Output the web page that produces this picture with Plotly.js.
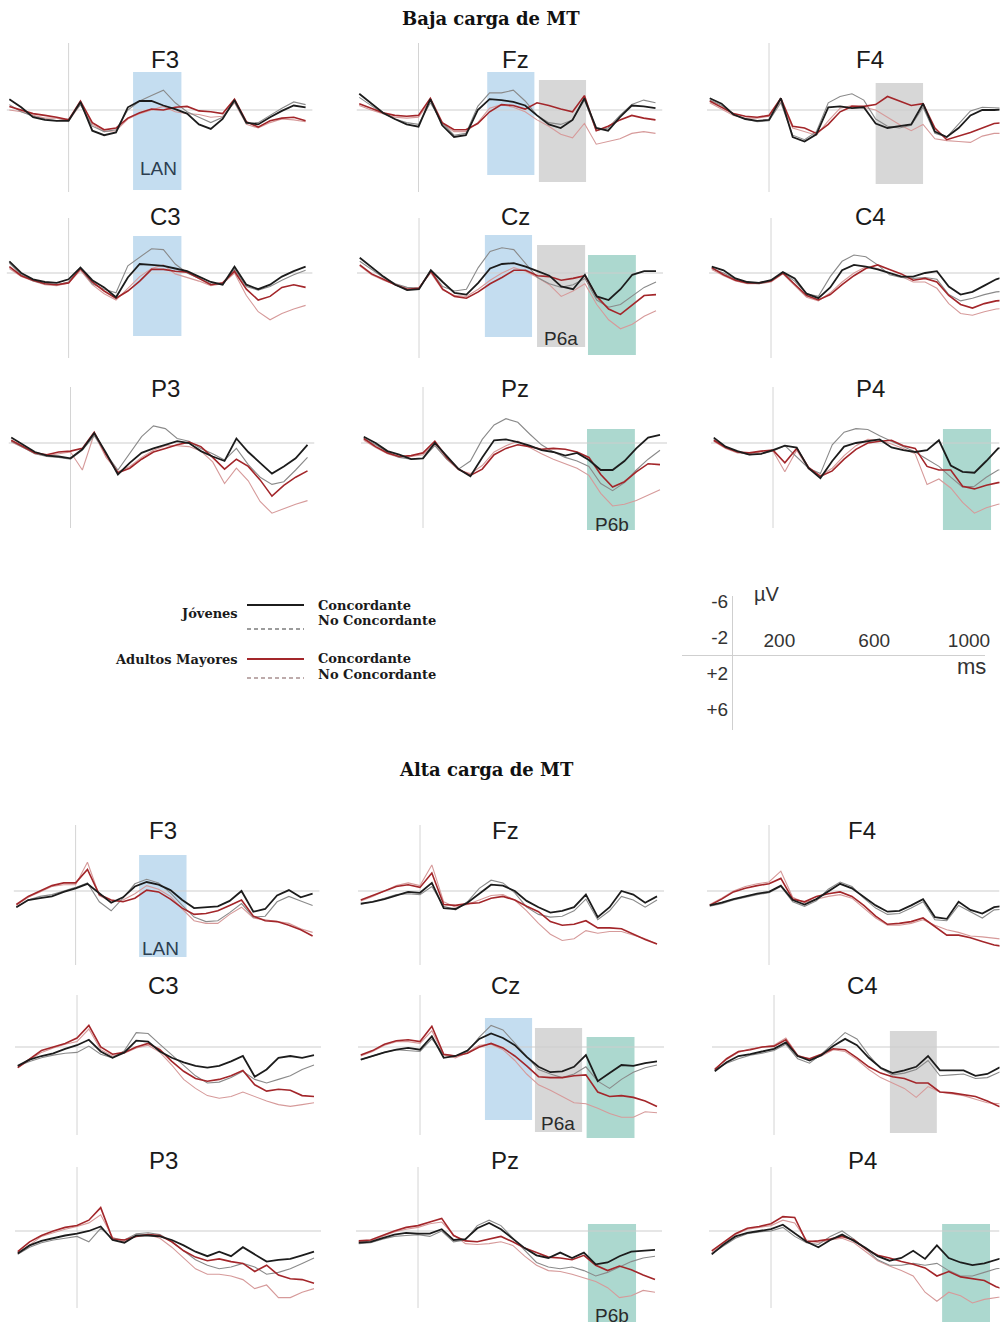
<!DOCTYPE html>
<html><head><meta charset="utf-8">
<script src="https://cdn.plot.ly/plotly-3.0.1.min.js"></script>
<style>html,body{margin:0;padding:0;background:#fff;}#chart{width:1000px;height:1329px;}</style>
</head><body><div id="chart"></div>
<script>
// ---------- DATA ----------
const TIME_MS = [-250,-200,-150,-100,-50,0,50,100,150,200,250,300,350,400,450,500,550,600,650,700,750,800,850,900,950,1000];
const CHANNELS = ['F3','Fz','F4','C3','Cz','C4','P3','Pz','P4'];
const GROUP_TITLES = ['Baja carga de MT','Alta carga de MT'];
const GROUP_NAMES = ['Jóvenes','Adultos Mayores'];
const CONDITION_NAMES = ['Concordante','No Concordante'];
const SCALE_UV_TICKS = [-6,-2,2,6];
const SCALE_UV_LABELS = ['-6','-2','+2','+6'];
const SCALE_MS_TICKS = [200,600,1000];
const SCALE_MS_LABELS = ['200','600','1000'];

// Baja carga de MT (µV; negative plotted up). JC = Jóvenes Concordante, JN = Jóvenes No Concordante, AC/AN = Adultos Mayores
const B_F3_JC = [-1.2,-0.3,0.8,1.1,1.2,1.2,-0.9,2.3,2.8,2.5,-0.3,-1.0,-1.0,-0.5,-0.1,0.4,1.6,2.1,1.0,-1.1,1.4,1.6,0.8,0.1,-0.5,-0.3];
const B_F3_JN = [-0.6,0.2,0.7,1.0,1.2,1.0,-0.6,1.8,2.4,2.2,0.0,-1.0,-1.6,-2.2,-0.8,0.2,0.8,1.4,0.8,-0.9,1.5,1.4,0.6,-0.2,-0.9,-0.6];
const B_F3_AC = [-0.4,0.0,0.4,0.6,0.8,1.1,-1.0,1.4,2.2,2.0,0.9,0.3,-0.1,0.0,-0.3,-0.4,0.1,0.2,0.4,-1.2,1.3,1.9,1.2,0.9,0.8,1.2];
const B_F3_AN = [0.0,0.2,0.6,0.9,0.9,1.2,-0.6,1.6,2.4,2.3,1.0,0.4,0.0,-0.4,0.2,0.4,0.5,0.8,0.7,-0.8,1.6,2.0,1.4,1.0,1.1,1.3];
const B_Fz_JC = [-1.8,-0.7,0.3,1.0,1.6,1.85,-1.2,1.7,3.0,2.8,0.0,-1.2,-1.1,-0.9,-0.5,0.6,1.6,2.0,1.1,-1.3,2.0,2.3,0.8,-0.5,-0.4,-0.2];
const B_Fz_JN = [-1.4,-0.5,0.4,1.0,1.4,1.6,-0.8,1.4,2.8,2.6,-0.4,-1.9,-1.9,-2.2,-1.0,0.6,1.4,1.6,1.1,-1.1,2.3,2.0,0.6,-0.6,-1.1,-0.8];
const B_Fz_AC = [-0.7,-0.2,0.3,0.6,0.7,0.6,-1.3,1.4,2.2,2.2,1.5,0.2,-0.6,-0.5,-0.1,-0.8,-0.5,-0.1,0.2,-1.6,2.3,1.8,1.1,0.6,0.9,1.1];
const B_Fz_AN = [-0.5,0.0,0.4,0.8,0.9,0.8,-1.0,1.5,2.4,2.4,1.4,-0.2,-0.6,-0.3,0.2,1.1,1.8,2.7,3.1,1.5,3.8,3.5,3.2,2.6,2.4,2.6];
const B_F4_JC = [-1.3,-0.7,0.5,1.0,1.2,1.1,-1.3,3.0,3.5,2.7,-0.3,-0.4,-0.2,-0.3,1.5,2.0,1.8,1.6,-0.7,2.4,3.0,2.0,0.6,0.0,0.0,-0.1];
const B_F4_JN = [-1.1,-0.5,0.5,1.0,1.3,1.2,-0.8,2.8,3.3,2.4,-0.8,-1.5,-1.8,-1.1,1.0,1.8,2.0,1.7,-0.3,2.6,3.0,1.5,0.1,-0.3,-0.2,-0.2];
const B_F4_AC = [-1.0,-0.3,0.4,0.7,0.8,0.6,-1.3,1.8,2.0,2.6,1.6,0.2,-0.4,-0.4,-0.6,-1.5,-1.0,-0.5,-0.7,2.0,3.3,2.9,2.5,2.0,1.5,1.4];
const B_F4_AN = [-0.8,-0.1,0.6,0.9,0.9,0.7,-0.9,2.0,2.4,2.8,1.2,-0.2,-0.5,-0.3,0.0,0.8,1.6,2.3,1.6,3.2,3.4,3.5,3.6,2.9,2.6,2.6];
const B_C3_JC = [-1.3,0.0,0.7,1.0,1.1,0.7,-0.6,0.8,1.6,2.7,0.5,-1.0,-0.9,-0.8,-0.5,-0.2,0.4,1.0,1.3,-0.7,1.3,1.8,1.3,0.4,-0.2,-0.7];
const B_C3_JN = [-1.1,0.2,0.9,1.2,1.3,1.0,-0.5,1.2,1.8,2.2,-0.8,-1.8,-2.7,-2.6,-1.0,0.0,0.6,1.2,1.3,-0.4,1.5,1.9,1.5,0.8,0.2,-0.3];
const B_C3_AC = [-0.7,0.3,0.8,1.2,1.3,1.1,-0.5,1.0,2.0,2.8,2.0,0.9,-0.4,-0.4,-0.2,-0.1,0.6,1.3,1.1,-0.2,1.8,3.0,2.6,1.6,1.3,1.6];
const B_C3_AN = [-0.5,0.4,0.9,1.3,1.4,1.1,-0.3,1.3,2.3,3.0,1.7,0.4,-0.5,-0.9,0.1,0.5,0.9,1.4,1.2,0.0,2.5,4.3,5.2,4.5,4.0,3.6];
const B_Cz_JC = [-1.7,-0.6,0.4,1.3,1.9,1.8,-0.3,1.0,2.2,2.4,1.1,-0.5,-1.0,-1.1,-0.7,-0.2,0.3,1.5,1.8,0.2,2.6,3.0,1.8,0.2,-0.2,-0.2];
const B_Cz_JN = [-1.3,-0.4,0.5,1.2,1.6,1.7,-0.2,1.5,2.0,1.8,-0.6,-2.4,-2.8,-2.6,-1.0,0.5,1.2,1.6,1.3,0.6,3.0,3.8,3.5,2.6,1.6,1.0];
const B_Cz_AC = [-0.9,0.1,0.7,1.3,1.8,1.7,-0.2,1.8,2.6,2.8,2.1,1.2,0.5,-0.3,-0.3,0.3,0.4,0.8,0.6,0.3,2.6,4.0,4.6,3.5,2.5,2.4];
const B_Cz_AN = [-0.8,0.2,0.8,1.3,1.7,1.6,0.0,1.9,2.5,2.6,1.8,0.8,0.0,-0.6,-0.2,0.5,1.3,2.6,2.0,1.2,3.5,5.2,6.2,5.7,4.8,4.2];
const B_C4_JC = [-0.7,-0.3,0.6,1.0,1.1,0.8,-0.1,0.6,2.3,2.8,1.6,-0.3,-0.9,-0.7,-0.4,0.0,0.4,0.4,0.0,-0.2,1.5,2.4,2.1,1.4,0.7,0.3];
const B_C4_JN = [-0.5,0.0,0.7,1.1,1.2,0.9,0.0,0.9,2.3,2.6,0.4,-1.3,-2.0,-1.8,-0.9,0.2,0.5,0.6,0.5,0.7,2.4,3.1,2.8,2.4,2.1,2.0];
const B_C4_AC = [-0.6,0.2,0.8,1.1,1.1,0.9,0.0,1.2,2.5,3.0,2.4,1.3,0.3,-0.5,-0.9,-0.4,0.1,0.8,0.6,1.0,2.5,3.5,3.9,3.4,3.1,3.0];
const B_C4_AN = [-0.4,0.3,0.9,1.2,1.2,1.0,0.1,1.4,2.7,3.1,2.2,1.0,0.0,-0.7,-0.5,0.0,0.4,1.0,1.0,1.7,3.4,4.5,4.7,4.3,4.0,3.9];
const B_P3_JC = [-0.6,0.2,1.0,1.4,1.5,1.7,0.7,-1.1,1.1,3.5,2.2,1.1,0.6,0.2,-0.2,0.0,0.9,1.5,2.0,-0.5,1.0,2.2,3.4,2.6,1.7,0.2];
const B_P3_JN = [-0.2,0.5,1.2,1.5,1.6,1.8,0.8,-0.8,1.2,3.0,1.1,-0.7,-1.9,-1.6,-0.5,-0.2,0.6,1.2,1.9,0.6,2.4,3.8,4.6,4.3,3.0,1.6];
const B_P3_AC = [-0.3,0.4,1.1,1.3,1.0,0.9,0.6,-1.2,1.3,3.3,2.8,1.8,1.0,0.6,0.2,-0.1,0.4,1.6,2.9,1.8,2.6,4.1,5.9,4.7,3.8,3.1];
const B_P3_AN = [-0.1,0.5,1.2,1.4,1.2,1.0,3.0,-1.0,1.6,3.2,2.6,1.6,0.8,0.3,0.3,0.4,0.9,2.1,4.5,2.8,4.2,6.5,7.8,7.3,6.8,6.4];
const B_Pz_JC = [-0.7,0.0,0.9,1.3,1.8,1.7,0.0,1.4,2.9,3.7,1.6,-0.3,-0.4,-0.1,0.3,0.8,1.0,1.4,1.1,1.9,3.0,3.0,2.0,0.6,-0.6,-0.9];
const B_Pz_JN = [-0.5,0.2,1.0,1.6,1.8,1.7,0.3,1.8,2.9,2.0,-0.4,-2.0,-2.7,-2.3,-1.0,0.2,1.0,1.6,2.0,2.6,4.5,5.3,4.4,3.0,1.8,0.8];
const B_Pz_AC = [-0.5,0.4,1.1,1.5,1.4,1.1,-0.2,1.6,2.9,3.6,2.9,1.3,0.6,0.2,0.4,0.7,0.6,0.7,1.0,1.6,3.5,4.9,4.3,3.2,2.3,2.4];
const B_Pz_AN = [-0.3,0.5,1.2,1.6,1.5,1.3,0.2,1.8,3.0,3.4,2.5,1.0,0.3,-0.2,0.5,1.2,1.8,2.3,2.8,3.6,5.6,7.0,6.8,6.4,5.8,5.2];
const B_P4_JC = [-0.6,0.4,0.9,1.3,1.2,0.8,0.3,0.5,2.8,3.9,2.0,0.4,0.0,-0.2,-0.4,0.5,0.8,1.0,0.8,-0.3,2.5,3.2,3.3,2.0,0.6,0.4];
const B_P4_JN = [-0.4,0.5,1.0,1.3,1.2,0.9,0.3,1.5,2.8,3.4,0.2,-1.2,-1.6,-1.5,-0.8,-0.2,0.4,1.0,1.8,2.6,3.8,4.9,4.8,3.8,3.0,2.8];
const B_P4_AC = [-0.3,0.5,1.0,1.1,0.9,0.8,2.2,0.6,2.7,3.7,3.1,1.8,0.7,0.0,-0.2,-0.3,0.3,0.6,2.6,3.0,3.0,4.8,5.1,4.7,4.4,4.3];
const B_P4_AN = [-0.2,0.6,1.1,1.2,1.0,0.9,3.2,0.8,2.9,3.6,2.8,1.4,0.3,-0.4,-0.3,0.1,0.6,1.2,4.6,4.0,5.0,6.6,7.8,7.2,6.8,6.7];

// Alta carga de MT
const A_F3_JC = [1.8,1.0,0.8,0.6,0.1,-0.3,-0.8,0.3,1.3,0.7,-0.5,-1.0,-0.7,-0.1,1.0,1.9,1.8,1.7,1.1,0.0,2.3,2.0,0.5,-0.1,0.7,0.3];
const A_F3_JN = [1.8,1.0,0.6,0.4,0.0,-0.4,-0.9,1.2,2.2,0.8,-0.8,-1.3,-0.9,0.2,1.6,2.9,3.4,3.3,2.4,1.4,2.9,2.8,1.2,0.6,1.1,1.6];
const A_F3_AC = [1.5,0.6,0.0,-0.6,-0.9,-0.9,-2.4,0.4,1.0,1.2,0.8,-0.1,0.1,0.9,1.9,2.6,2.5,2.2,1.6,1.0,2.8,3.3,3.4,3.8,4.3,5.0];
const A_F3_AN = [1.6,0.7,0.1,-0.5,-0.7,-0.7,-3.2,0.5,1.2,1.0,0.3,-0.6,-0.2,0.6,2.0,3.3,3.6,3.6,2.6,1.8,3.0,3.2,3.4,3.6,4.2,4.6];
const A_Fz_JC = [1.4,1.2,0.9,0.5,0.1,0.2,-0.9,1.9,2.0,1.3,0.3,-0.7,-0.6,0.0,1.1,1.8,2.4,2.2,1.8,0.4,2.9,1.8,0.0,0.4,1.3,0.6];
const A_Fz_JN = [1.5,1.2,0.8,0.4,0.3,0.4,-0.5,1.7,2.1,1.2,-0.3,-1.2,-0.9,0.2,1.8,2.6,2.9,2.8,2.2,0.9,3.2,2.2,0.6,1.0,1.8,1.0];
const A_Fz_AC = [1.0,0.5,0.0,-0.5,-0.7,-0.4,-2.0,1.5,1.6,1.4,1.3,0.8,0.6,1.0,1.7,2.3,3.4,3.8,3.7,3.3,4.1,4.1,4.2,4.8,5.4,5.9];
const A_Fz_AN = [1.1,0.6,0.0,-0.6,-0.9,-0.6,-2.9,1.2,1.8,1.5,1.0,0.5,0.4,1.0,2.2,3.6,4.8,5.5,5.3,4.4,4.7,4.5,4.5,4.9,5.3,5.9];
const A_F4_JC = [1.6,1.3,0.9,0.6,0.3,0.1,-0.6,1.0,1.5,0.9,0.0,-0.8,-0.3,0.6,1.6,2.3,2.2,1.6,0.9,2.9,3.1,1.2,2.1,2.5,1.8,1.6];
const A_F4_JN = [1.7,1.4,1.0,0.7,0.4,0.2,-0.5,1.2,1.7,1.1,-0.2,-1.0,-0.5,0.8,1.9,2.6,2.5,1.9,1.2,3.2,3.3,1.6,2.3,3.0,2.1,2.0];
const A_F4_AC = [1.6,0.9,0.1,-0.3,-0.6,-0.8,-1.4,0.9,1.2,0.6,0.3,0.1,0.6,1.6,2.8,3.7,3.6,3.4,3.0,4.0,4.9,4.9,5.2,5.6,6.0,6.2];
const A_F4_AN = [1.5,0.8,0.0,-0.5,-0.8,-1.0,-2.2,0.7,1.3,0.9,0.6,0.4,0.8,1.9,3.0,3.8,3.8,3.6,3.2,3.8,4.3,4.6,5.0,5.1,5.3,5.4];
const A_C3_JC = [2.1,1.4,1.0,0.7,0.2,-0.2,-0.8,0.5,1.2,0.6,-0.7,-0.6,0.5,1.2,1.7,2.1,2.3,2.1,1.6,1.0,3.3,2.5,1.2,1.0,1.2,0.9];
const A_C3_JN = [2.1,1.6,1.2,0.9,0.7,0.6,-0.1,0.8,1.2,0.4,-1.6,-1.5,-0.3,0.9,2.1,3.2,4.0,3.9,3.4,2.7,3.6,4.0,3.6,3.2,2.5,2.0];
const A_C3_AC = [2.3,1.3,0.4,0.0,-0.4,-1.0,-2.4,0.0,0.8,0.6,0.0,-0.4,0.3,1.6,2.7,3.5,3.8,3.6,3.2,2.6,4.2,4.9,4.7,4.8,5.4,5.5];
const A_C3_AN = [2.3,1.4,0.6,0.1,-0.3,-0.6,-2.0,0.3,1.0,0.7,0.1,-0.2,0.6,2.0,3.6,4.6,5.4,5.7,5.5,5.0,5.5,6.0,6.4,6.6,6.4,6.2];
const A_Cz_JC = [1.4,1.0,0.6,0.3,0.1,0.3,-1.2,1.2,1.0,0.4,-0.9,-1.5,-1.0,-0.2,1.1,2.2,2.8,2.7,2.2,0.9,3.8,2.9,2.0,2.1,1.8,1.6];
const A_Cz_JN = [1.4,1.0,0.6,0.3,0.4,0.5,-0.9,0.8,1.0,0.5,-1.1,-2.4,-1.9,-0.4,1.0,2.5,3.0,3.4,3.0,2.2,3.8,4.6,3.6,2.8,2.3,2.0];
const A_Cz_AC = [0.9,0.4,-0.3,-0.7,-0.8,-0.6,-2.3,0.8,1.0,0.7,0.0,-0.4,0.1,1.0,2.1,3.3,3.4,3.4,3.2,3.1,5.0,5.5,5.4,5.6,6.0,6.6];
const A_Cz_AN = [1.0,0.5,-0.2,-0.6,-0.6,-0.4,-1.8,0.9,1.2,0.6,-0.2,-0.3,0.3,1.5,3.0,4.2,4.8,5.5,6.2,6.3,6.8,7.4,7.8,7.8,7.2,7.3];
const A_C4_JC = [2.7,1.7,1.0,0.8,0.5,0.2,-0.5,1.0,1.5,0.9,-0.1,-0.9,-0.2,1.2,2.3,2.9,2.6,2.2,1.0,2.6,2.6,2.6,3.2,3.0,2.3,2.2];
const A_C4_JN = [2.5,1.8,1.3,0.9,0.7,0.4,-0.3,1.3,1.8,0.8,-0.4,-1.6,-0.9,0.9,2.4,3.1,2.9,2.5,1.5,3.2,3.1,3.0,3.5,3.4,2.8,2.7];
const A_C4_AC = [2.5,1.3,0.5,0.3,0.0,-0.1,-0.8,1.0,1.3,0.8,0.2,0.3,1.2,2.2,2.9,3.3,3.5,4.0,4.0,5.0,5.1,5.3,5.5,6.0,6.6,6.8];
const A_C4_AN = [2.4,1.4,0.6,0.2,0.0,-0.2,-1.0,0.9,1.4,1.0,0.3,0.5,1.4,2.5,3.4,4.0,4.6,5.6,4.4,5.0,5.2,5.4,5.8,6.2,6.3,6.4];
const A_P3_JC = [2.5,1.6,1.1,0.8,0.5,0.3,0.0,-0.5,1.0,1.3,0.5,0.5,0.6,1.0,1.6,2.3,2.8,2.3,2.8,1.8,2.6,3.4,3.2,3.1,2.7,2.3];
const A_P3_JN = [2.6,1.8,1.3,1.0,0.8,0.6,1.2,-0.3,0.8,1.0,0.3,0.2,0.4,1.2,2.2,3.2,3.8,4.2,4.0,3.6,4.0,4.8,4.6,4.2,3.6,3.0];
const A_P3_AC = [2.3,1.2,0.5,0.0,-0.4,-0.6,-1.2,-2.6,0.9,1.0,0.6,0.4,0.5,1.2,2.2,2.9,3.3,3.1,3.4,3.6,4.5,3.8,4.9,5.3,5.4,5.8];
const A_P3_AN = [2.5,1.5,0.6,0.2,-0.2,-0.5,-0.9,-1.8,0.7,1.2,0.5,0.4,0.8,1.8,3.0,4.2,4.8,4.8,5.0,5.4,6.4,6.0,7.4,7.4,6.8,6.4];
const A_Pz_JC = [1.3,1.2,0.8,0.4,0.2,0.3,0.3,-0.2,1.0,0.9,-0.3,-0.9,-0.2,0.8,1.9,2.7,3.0,2.4,3.0,2.4,3.7,3.5,2.8,2.3,2.2,2.1];
const A_Pz_JN = [1.4,1.3,0.9,0.6,0.5,0.4,0.6,0.0,1.2,1.0,-0.6,-1.2,-0.6,0.8,2.2,3.5,4.0,4.2,4.0,4.4,5.0,4.6,4.0,3.4,3.0,2.8];
const A_Pz_AC = [1.1,1.0,0.5,0.0,-0.4,-0.6,-1.0,-1.4,0.5,1.1,1.2,0.9,0.6,1.2,1.9,2.4,2.9,3.0,3.2,2.7,3.8,4.4,3.9,4.3,4.9,5.4];
const A_Pz_AN = [1.2,1.1,0.6,0.1,-0.2,-0.4,-0.8,-1.0,0.4,1.4,1.5,1.4,1.2,1.6,2.8,3.8,4.4,4.5,4.8,5.2,5.6,6.3,7.4,7.2,6.6,6.8];
const A_P4_JC = [2.6,1.5,0.6,0.2,0.0,-0.2,-0.7,0.2,1.2,1.8,1.0,0.4,1.1,1.9,2.8,3.3,3.0,2.2,3.1,1.6,3.0,3.5,3.8,3.6,3.2,2.8];
const A_P4_JN = [2.5,1.6,0.8,0.3,0.1,0.0,-0.4,0.6,1.3,1.5,0.6,0.0,0.9,2.0,3.2,3.8,3.8,3.6,3.8,3.6,4.4,5.0,5.0,4.6,4.2,4.0];
const A_P4_AC = [2.2,1.2,0.3,-0.3,-0.5,-0.8,-1.6,-1.5,1.2,1.1,0.9,0.6,1.0,2.0,2.7,3.0,3.4,3.7,4.1,5.0,4.5,5.1,5.3,5.5,6.2,6.6];
const A_P4_AN = [2.4,1.3,0.4,-0.2,-0.4,-0.6,-1.2,-0.9,1.0,1.3,1.0,0.8,1.3,2.3,3.3,3.9,4.4,5.0,6.8,7.8,6.8,7.2,8.0,7.6,7.4,7.2];

// ---------- ASSEMBLY ----------
const SERIES_DATA = {
  B_F3:[B_F3_JC,B_F3_JN,B_F3_AC,B_F3_AN], B_Fz:[B_Fz_JC,B_Fz_JN,B_Fz_AC,B_Fz_AN], B_F4:[B_F4_JC,B_F4_JN,B_F4_AC,B_F4_AN],
  B_C3:[B_C3_JC,B_C3_JN,B_C3_AC,B_C3_AN], B_Cz:[B_Cz_JC,B_Cz_JN,B_Cz_AC,B_Cz_AN], B_C4:[B_C4_JC,B_C4_JN,B_C4_AC,B_C4_AN],
  B_P3:[B_P3_JC,B_P3_JN,B_P3_AC,B_P3_AN], B_Pz:[B_Pz_JC,B_Pz_JN,B_Pz_AC,B_Pz_AN], B_P4:[B_P4_JC,B_P4_JN,B_P4_AC,B_P4_AN],
  A_F3:[A_F3_JC,A_F3_JN,A_F3_AC,A_F3_AN], A_Fz:[A_Fz_JC,A_Fz_JN,A_Fz_AC,A_Fz_AN], A_F4:[A_F4_JC,A_F4_JN,A_F4_AC,A_F4_AN],
  A_C3:[A_C3_JC,A_C3_JN,A_C3_AC,A_C3_AN], A_Cz:[A_Cz_JC,A_Cz_JN,A_Cz_AC,A_Cz_AN], A_C4:[A_C4_JC,A_C4_JN,A_C4_AC,A_C4_AN],
  A_P3:[A_P3_JC,A_P3_JN,A_P3_AC,A_P3_AN], A_Pz:[A_Pz_JC,A_Pz_JN,A_Pz_AC,A_Pz_AN], A_P4:[A_P4_JC,A_P4_JN,A_P4_AC,A_P4_AN]
};

// series style: index into data [JC, JN, AC, AN]; drawing order thin first
const STYLE = [
  {i:3, color:'#d69a9a', width:1.1},
  {i:1, color:'#8a8a8a', width:1.1},
  {i:2, color:'#a3262a', width:1.6},
  {i:0, color:'#1c1c1c', width:1.8}
];

const W = 1000, H = 1329, KX = 0.237, KY = 9;
const px = x => x / W, py = y => 1 - y / H;

const GEOM = {
  B: { rows:[{base:110,top:43,bot:192,ty:60},{base:273,top:218,bot:358,ty:216},{base:443,top:387,bot:528,ty:389}],
       onsets:[[68.6,418.5,769],[68.6,419,771],[70.5,423,773]], titleX:[165,515,870] },
  A: { rows:[{base:891,top:825,bot:965,ty:830},{base:1047,top:995,bot:1135,ty:986},{base:1231,top:1167,bot:1308,ty:1160}],
       onsets:[[75.6,420,769],[77,420,774],[77,418,771]], titleX:[163,505,862] }
};

const WINDOWS = [
  {panel:'B_F3', kind:'blue', ms:[272,476], y:[72,190], label:'LAN', lx:158, ly:168},
  {panel:'B_Fz', kind:'blue', ms:[290,489], y:[72,175]},
  {panel:'B_Fz', kind:'gray', ms:[508,707], y:[80,182]},
  {panel:'B_F4', kind:'gray', ms:[450,650], y:[83,184]},
  {panel:'B_C3', kind:'blue', ms:[272,476], y:[236,336]},
  {panel:'B_Cz', kind:'blue', ms:[278,477], y:[235,337]},
  {panel:'B_Cz', kind:'gray', ms:[498,701], y:[245,347], label:'P6a', lx:561, ly:338},
  {panel:'B_Cz', kind:'green', ms:[713,915], y:[255,355]},
  {panel:'B_Pz', kind:'green', ms:[692,894], y:[429,530], label:'P6b', lx:612, ly:524},
  {panel:'B_P4', kind:'green', ms:[717,920], y:[429,530]},
  {panel:'A_F3', kind:'blue', ms:[268,468], y:[855,957], label:'LAN', lx:160, ly:948},
  {panel:'A_Cz', kind:'blue', ms:[274,473], y:[1018,1120]},
  {panel:'A_Cz', kind:'gray', ms:[485,684], y:[1028,1132], label:'P6a', lx:558, ly:1123},
  {panel:'A_Cz', kind:'green', ms:[703,905], y:[1037,1138]},
  {panel:'A_C4', kind:'gray', ms:[489,687], y:[1031,1133]},
  {panel:'A_Pz', kind:'green', ms:[717,920], y:[1224,1322], label:'P6b', lx:612, ly:1315},
  {panel:'A_P4', kind:'green', ms:[722,924], y:[1224,1322]}
];
const BOX_COLORS = {blue:'rgb(196,221,240)', gray:'rgb(215,215,215)', green:'rgb(172,216,207)'};

const traces = [], shapes = [], annotations = [];
const layout = {
  width:W, height:H, margin:{l:0,r:0,t:0,b:0}, showlegend:false,
  paper_bgcolor:'#ffffff', plot_bgcolor:'rgba(0,0,0,0)',
  font:{family:'Liberation Sans, Arial, sans-serif', color:'#222'}
};
const axisIndex = {};
let idx = 0;

['B','A'].forEach(g => {
  const geo = GEOM[g];
  CHANNELS.forEach((ch, c) => {
    idx++;
    const r = Math.floor(c / 3), col = c % 3;
    const row = geo.rows[r], onset = geo.onsets[r][col];
    const key = g + '_' + ch;
    axisIndex[key] = idx;
    const left = onset - 62, right = Math.min(onset + 244, 999.5);
    const xa = idx === 1 ? 'x' : 'x' + idx, ya = idx === 1 ? 'y' : 'y' + idx;
    const xrange = [(left - onset) / KX, (right - onset) / KX];
    layout['xaxis' + (idx === 1 ? '' : idx)] = {domain:[px(left), px(right)], range:xrange, visible:false, fixedrange:true};
    layout['yaxis' + (idx === 1 ? '' : idx)] = {domain:[py(row.bot), py(row.top)], range:[(row.bot - row.base) / KY, (row.top - row.base) / KY], visible:false, fixedrange:true};
    shapes.push({type:'line', xref:xa, yref:ya, x0:xrange[0], x1:xrange[1], y0:0, y1:0, line:{color:'#cdcdcd', width:1}, layer:'below'});
    shapes.push({type:'line', xref:xa, yref:ya + ' domain', x0:0, x1:0, y0:0, y1:1, line:{color:'#d4d4d4', width:1}, layer:'below'});
    const data = SERIES_DATA[key];
    STYLE.forEach(s => {
      traces.push({x:TIME_MS, y:data[s.i], xaxis:xa, yaxis:ya, type:'scatter', mode:'lines',
        line:{color:s.color, width:s.width}, hoverinfo:'skip'});
    });
    annotations.push({xref:'paper', yref:'paper', x:px(geo.titleX[col]), y:py(row.ty), text:ch, showarrow:false,
      xanchor:'center', yanchor:'middle', font:{size:24, color:'#1a1a1a', family:'Liberation Sans, Arial, sans-serif'}});
  });
});

WINDOWS.forEach(w => {
  const i = axisIndex[w.panel];
  const xa = i === 1 ? 'x' : 'x' + i;
  shapes.push({type:'rect', xref:xa, yref:'paper', x0:w.ms[0], x1:w.ms[1], y0:py(w.y[1]), y1:py(w.y[0]),
    fillcolor:BOX_COLORS[w.kind], line:{width:0}, layer:'below'});
  if (w.label) {
    annotations.push({xref:'paper', yref:'paper', x:px(w.lx), y:py(w.ly), text:w.label, showarrow:false,
      xanchor:'center', yanchor:'middle', font:{size:19, color: w.kind === 'blue' ? '#2c3e50' : '#2a2a2a'}});
  }
});

annotations.push({xref:'paper', yref:'paper', x:px(491), y:py(18), text:'<b>' + GROUP_TITLES[0] + '</b>', showarrow:false,
  xanchor:'center', yanchor:'middle', font:{size:18, family:'DejaVu Serif, serif', color:'#111'}});
annotations.push({xref:'paper', yref:'paper', x:px(486), y:py(769), text:'<b>' + GROUP_TITLES[1] + '</b>', showarrow:false,
  xanchor:'center', yanchor:'middle', font:{size:18, family:'DejaVu Serif, serif', color:'#111'}});

// legend
const LEG_FONT = {size:13, family:'DejaVu Serif, serif', color:'#1a1a1a'};
const legendRows = [
  {group:0, gy:613, lines:[{y:605, color:'#1c1c1c', dash:'solid', width:1.8}, {y:629, color:'#7c7c7c', dash:'4px,3px', width:1.3}], ty:[605,621]},
  {group:1, gy:660, lines:[{y:659, color:'#a3262a', dash:'solid', width:1.8}, {y:678, color:'#a89090', dash:'4px,3px', width:1.3}], ty:[659,674]}
];
legendRows.forEach(lr => {
  annotations.push({xref:'paper', yref:'paper', x:px(240), y:py(lr.gy), text:'<b>' + GROUP_NAMES[lr.group] + '</b>', showarrow:false,
    xanchor:'right', yanchor:'middle', font:LEG_FONT});
  lr.lines.forEach(l => shapes.push({type:'line', xref:'paper', yref:'paper', x0:px(247), x1:px(304), y0:py(l.y), y1:py(l.y),
    line:{color:l.color, width:l.width, dash:l.dash}}));
  CONDITION_NAMES.forEach((cn, k) => annotations.push({xref:'paper', yref:'paper', x:px(316), y:py(lr.ty[k]), text:'<b>' + cn + '</b>',
    showarrow:false, xanchor:'left', yanchor:'middle', font:LEG_FONT}));
});

// scale bar as a real pair of axes
const SO = 732, SB = 655;
layout.xaxis19 = {domain:[px(682), px(985)], range:[(682 - SO) / KX, (985 - SO) / KX], anchor:'free', position:py(SB), side:'top',
  showline:true, linecolor:'#cfcfcf', linewidth:1, showgrid:false, zeroline:false, ticks:'', tickvals:SCALE_MS_TICKS, ticktext:SCALE_MS_LABELS,
  tickfont:{size:19, color:'#333'}, fixedrange:true};
layout.yaxis19 = {domain:[py(730), py(596)], range:[(730 - SB) / KY, (596 - SB) / KY], anchor:'free', position:px(SO), side:'left',
  showline:true, linecolor:'#cfcfcf', linewidth:1, showgrid:false, zeroline:false, ticks:'', tickvals:SCALE_UV_TICKS, ticktext:SCALE_UV_LABELS,
  tickfont:{size:19, color:'#333'}, fixedrange:true};
traces.push({x:[], y:[], xaxis:'x19', yaxis:'y19', type:'scatter', mode:'lines', hoverinfo:'skip'});
annotations.push({xref:'paper', yref:'paper', x:px(752), y:py(594), text:'µV', showarrow:false, xanchor:'left', yanchor:'middle',
  font:{size:20, color:'#333'}});
annotations.push({xref:'paper', yref:'paper', x:px(988), y:py(666), text:'ms', showarrow:false, xanchor:'right', yanchor:'middle',
  font:{size:22, color:'#333'}});

layout.shapes = shapes;
layout.annotations = annotations;

Plotly.newPlot('chart', traces, layout, {staticPlot:true, displayModeBar:false});
</script></body></html>
